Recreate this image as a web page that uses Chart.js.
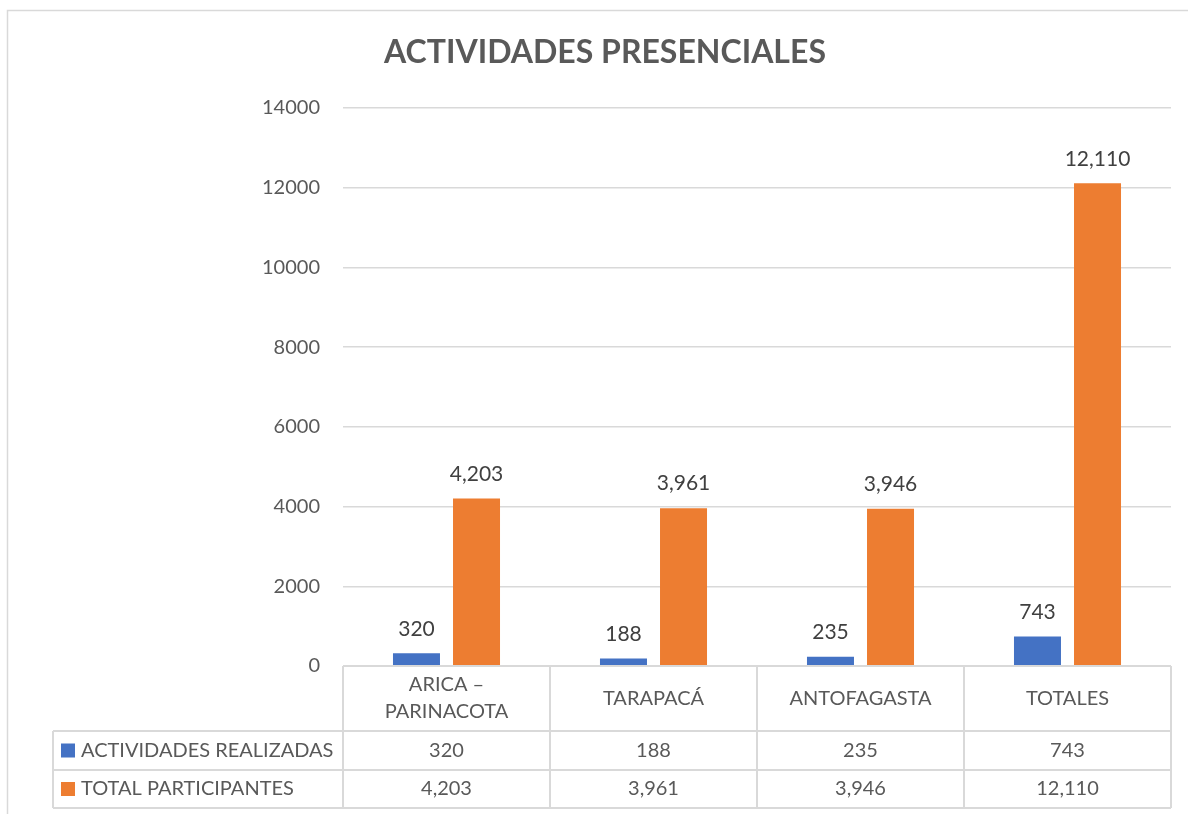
<!DOCTYPE html>
<html>
<head>
<meta charset="utf-8">
<script src="https://cdn.jsdelivr.net/npm/chart.js@4/dist/chart.umd.min.js"></script>
<style>
  html, body { margin: 0; padding: 0; background: #ffffff; }
  #wrap { width: 1188px; height: 814px; position: relative; }
</style>
</head>
<body>
<div id="wrap"><canvas id="c"></canvas></div>
<script>
const chartTitle = 'ACTIVIDADES PRESENCIALES';
const categories = [['ARICA –', 'PARINACOTA'], 'TARAPACÁ', 'ANTOFAGASTA', 'TOTALES'];
const seriesNames = ['ACTIVIDADES REALIZADAS', 'TOTAL PARTICIPANTES'];
const actividades = [320, 188, 235, 743];
const participantes = [4203, 3961, 3946, 12110];
const yTicks = [0, 2000, 4000, 6000, 8000, 10000, 12000, 14000];
const colors = ['#4472C4', '#ED7D31'];

const FONT = 'Lato, "Open Sans", sans-serif';
const TEXT = '#595959';
const LINE = '#d9d9d9';
const fmt = v => v.toLocaleString('en-US');

const framePlugin = {
  id: 'frame',
  beforeDraw(chart) {
    const ctx = chart.ctx;
    ctx.save();
    ctx.strokeStyle = LINE;
    ctx.lineWidth = 1.5;
    ctx.strokeRect(7.5, 10.5, 1300, 1000);
    ctx.restore();
  },
  afterDraw(chart) {
    const ctx = chart.ctx;
    ctx.save();
    ctx.font = 'bold 32px ' + FONT;
    ctx.fillStyle = TEXT;
    ctx.textAlign = 'center';
    ctx.textBaseline = 'middle';
    ctx.fillText(chartTitle, 605, 53);
    ctx.restore();
  }
};

const labelsPlugin = {
  id: 'barLabels',
  afterDatasetsDraw(chart) {
    const ctx = chart.ctx;
    ctx.save();
    ctx.font = '21px ' + FONT;
    ctx.fillStyle = '#404040';
    ctx.textAlign = 'center';
    ctx.textBaseline = 'bottom';
    chart.data.datasets.forEach((ds, di) => {
      chart.getDatasetMeta(di).data.forEach((bar, i) => {
        ctx.fillText(fmt(ds.data[i]), bar.x, bar.y - 14);
      });
    });
    ctx.restore();
  }
};

const tablePlugin = {
  id: 'dataTable',
  afterDraw(chart) {
    const ctx = chart.ctx;
    const xs = chart.scales.x;
    const area = chart.chartArea;
    const n = chart.data.labels.length;
    const w = (area.right - area.left) / n;
    const tableLeft = 53;
    const yTop = area.bottom;
    const yH = 731, yR1 = 770, yR2 = 808;
    ctx.save();
    ctx.strokeStyle = LINE;
    ctx.lineWidth = 2;
    ctx.beginPath();
    ctx.moveTo(area.left, yTop); ctx.lineTo(area.right, yTop);
    [yH, yR1, yR2].forEach(y => { ctx.moveTo(tableLeft, y); ctx.lineTo(area.right, y); });
    for (let i = 0; i <= n; i++) {
      const x = xs.getPixelForValue(0) - w / 2 + i * w;
      ctx.moveTo(x, yTop); ctx.lineTo(x, yR2);
    }
    ctx.moveTo(tableLeft, yH); ctx.lineTo(tableLeft, yR2);
    ctx.stroke();

    ctx.fillStyle = TEXT;
    ctx.font = '20px ' + FONT;
    ctx.textAlign = 'center';
    ctx.textBaseline = 'middle';
    chart.data.labels.forEach((lab, i) => {
      const cx = xs.getPixelForValue(i);
      const lines = Array.isArray(lab) ? lab : [lab];
      const lh = 27;
      const cy = (yTop + yH) / 2;
      lines.forEach((t, k) => {
        ctx.fillText(t, cx, cy - (lines.length - 1) * lh / 2 + k * lh);
      });
    });
    const rows = [[yH, yR1], [yR1, yR2]];
    chart.data.datasets.forEach((ds, di) => {
      const cy = (rows[di][0] + rows[di][1]) / 2;
      ds.data.forEach((v, i) => {
        ctx.fillStyle = TEXT;
        ctx.textAlign = 'center';
        ctx.fillText(fmt(v), xs.getPixelForValue(i), cy);
      });
      ctx.fillStyle = ds.backgroundColor;
      ctx.fillRect(61, cy - 7, 14, 14);
      ctx.fillStyle = TEXT;
      ctx.textAlign = 'left';
      ctx.fillText(ds.label, 81, cy);
    });
    ctx.restore();
  }
};

new Chart(document.getElementById('c'), {
  type: 'bar',
  data: {
    labels: categories,
    datasets: [
      { label: seriesNames[0], data: actividades, backgroundColor: colors[0] },
      { label: seriesNames[1], data: participantes, backgroundColor: colors[1] }
    ]
  },
  options: {
    responsive: true,
    maintainAspectRatio: false,
    animation: false,
    categoryPercentage: 0.58,
    barPercentage: 0.783,
    layout: { padding: { left: 0, right: 17, top: 108, bottom: 0 } },
    plugins: {
      legend: { display: false },
      tooltip: { enabled: false },
      title: { display: false }
    },
    scales: {
      x: {
        grid: { display: false },
        border: { display: false },
        ticks: { display: false },
        afterFit(s) { s.height = 814 - 666; }
      },
      y: {
        min: yTicks[0],
        max: yTicks[yTicks.length - 1],
        afterBuildTicks(s) { s.ticks = yTicks.map(v => ({ value: v })); },
        grid: { color: LINE, lineWidth: 1.5, drawTicks: false },
        border: { display: false },
        ticks: {
          color: TEXT,
          padding: 23,
          font: { family: FONT, size: 20 },
          callback: v => String(v)
        },
        afterFit(s) { s.width = 343; }
      }
    }
  },
  plugins: [framePlugin, labelsPlugin, tablePlugin]
});
</script>
</body>
</html>
